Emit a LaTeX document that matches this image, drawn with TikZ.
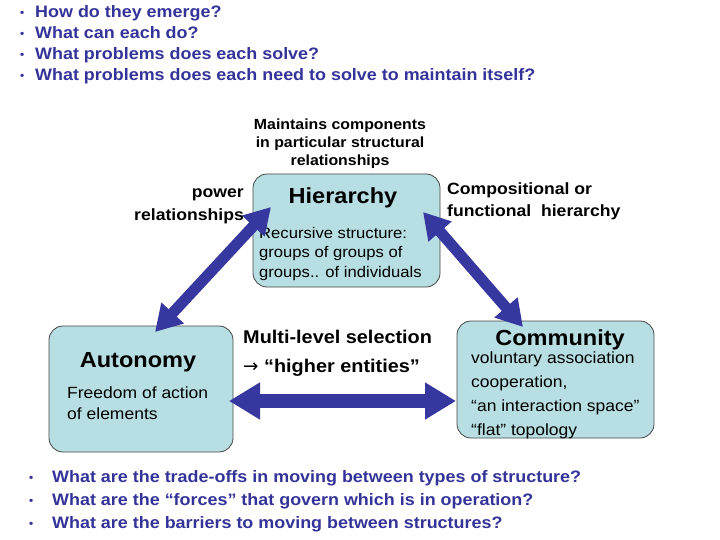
\documentclass[tikz,border=0pt]{standalone}
\usepackage{fontspec}
\setmainfont{Liberation Sans}[FakeStretch=1.08]
\newfontfamily\arrowfont{DejaVu Sans}
\usetikzlibrary{arrows.meta}
\definecolor{qblue}{RGB}{51,51,153}
\definecolor{arrblue}{RGB}{55,55,160}
\definecolor{boxfill}{RGB}{183,222,226}
\definecolor{boxline}{RGB}{70,70,70}
\tikzset{
  box/.style={draw=boxline, line width=0.8pt, fill=boxfill, rounded corners=14pt, inner sep=0pt},
  qtext/.style={anchor=base west, inner sep=0pt, text=qblue, font=\fontsize{16.6}{18}\selectfont\bfseries},
  bul/.style={anchor=base west, inner sep=0pt, text=qblue, font=\fontsize{11}{14}\selectfont\bfseries},
  title/.style={inner sep=0pt, font=\fontsize{21.8}{24}\selectfont\bfseries},
  body/.style={anchor=base west, inner sep=0pt, font=\fontsize{16.2}{18}\selectfont},
  lab/.style={inner sep=0pt, font=\fontsize{16.3}{18}\selectfont\bfseries},
  dbl/.style={draw=arrblue, line width=11pt, {Triangle[width=29pt,length=26pt]}-{Triangle[width=29pt,length=26pt]}},
  dblh/.style={draw=arrblue, line width=14pt, {Triangle[width=35pt,length=31pt]}-{Triangle[width=35pt,length=31pt]}}
}
\begin{document}
\begin{tikzpicture}[x=1pt,y=-1pt]
\useasboundingbox (0,0) rectangle (720,540);
% top questions
\foreach \yy/\tt [count=\i] in {18/How do they emerge?,39/What can each do?,60/What problems does each solve?,81/What problems does each need to solve to maintain itself?}{
  \node[bul] (tb\i) at (20,\yy-1) {\textbullet};
  \node[qtext] (tq\i) at (35,\yy) {\tt};
}
% boxes
\node[box, minimum width=187pt, minimum height=113pt] (hier) at (346.5,230.5) {};
\node[box, minimum width=184pt, minimum height=126pt] (auto) at (141,389) {};
\node[box, minimum width=197pt, minimum height=117pt] (comm) at (555.5,379.5) {};
% hierarchy text
\node[title] (hiert) at (343,198) {Hierarchy};
\node[body, font=\fontsize{15.4}{17}\selectfont] (hb1) at (259,239) {Recursive structure:};
\node[body, font=\fontsize{15.4}{17}\selectfont] (hb2) at (259,258) {groups of groups of};
\node[body, font=\fontsize{15.4}{17}\selectfont] (hb3) at (259,277) {groups.. of individuals};
% autonomy text
\node[title] (autot) at (138,362) {Autonomy};
\node[body] (ab1) at (67,398) {Freedom of action};
\node[body] (ab2) at (67,419) {of elements};
% community text
\node[title] (commt) at (560,340) {Community};
\node[body] (cb1) at (471,363) {voluntary association};
\node[body] (cb2) at (471,387) {cooperation,};
\node[body] (cb3) at (471,411) {“an interaction space”};
\node[body] (cb4) at (471,435) {“flat” topology};
% labels
\node[lab, font=\fontsize{14.7}{18}\selectfont\bfseries, align=center] (maint) at (340,144) {Maintains components\\in particular structural\\relationships};
\node[lab, anchor=base east] (pow1) at (244,197) {power};
\node[lab, anchor=base east] (pow2) at (244,221) {relationships};
\node[lab, anchor=base west] (comp1) at (447,195) {Compositional or};
\node[lab, anchor=base west] (comp2) at (447,217) {functional\ \ hierarchy};
\node[lab, anchor=base west, font=\fontsize{18.4}{20}\selectfont\bfseries] (ml1) at (243,343) {Multi-level selection};
\node[lab, anchor=base west, font=\fontsize{18.4}{20}\selectfont\bfseries] (ml2) at (243,372) {{\arrowfont\mdseries →} “higher entities”};
% arrows
\coordinate (a1) at (155,332);
\coordinate (a2) at (271,207);
\coordinate (b1) at (423,212);
\coordinate (b2) at (523,327);
\coordinate (c1) at (229,401);
\coordinate (c2) at (456,401);
\draw[dbl] (a1) -- (a2);
\draw[dbl] (b1) -- (b2);
\draw[dblh] (c1) -- (c2);
% bottom questions
\foreach \yy/\tt [count=\i] in {482/What are the trade-offs in moving between types of structure?,505/What are the “forces” that govern which is in operation?,528/What are the barriers to moving between structures?}{
  \node[bul] (bb\i) at (29,\yy-1) {\textbullet};
  \node[qtext] (bq\i) at (52,\yy) {\tt};
}
\end{tikzpicture}
\end{document}
